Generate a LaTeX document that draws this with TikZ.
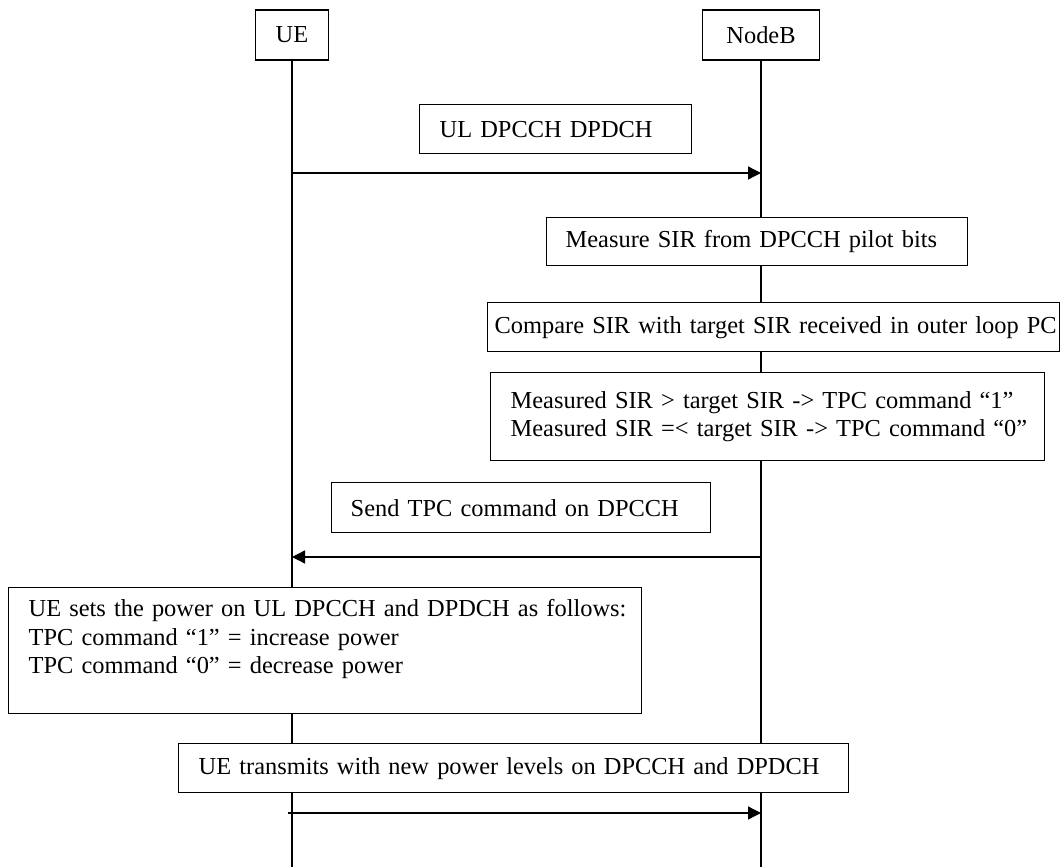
\documentclass[tikz,border=0pt]{standalone}
\usepackage{fontspec}
\setmainfont{Liberation Serif}
\usetikzlibrary{arrows.meta}
\begin{document}
\begin{tikzpicture}[x=1pt,y=-1pt,
  every node/.style={font=\fontsize{24.4}{28.5}\selectfont},
  head/.style={draw, line width=1.4pt, fill=white, minimum height=50pt, inner sep=0pt},
  box/.style={draw, line width=1.4pt, fill=white, anchor=north west, align=left, inner ysep=0pt},
  life/.style={line width=1.3pt},
  msg/.style={line width=1.3pt, -{Triangle[length=13pt,width=13pt]}}]
\useasboundingbox (0,0) rectangle (1061,867);

% heads
\node[head, minimum width=73pt] (ue) at (292,35) {UE};
\node[head, minimum width=117pt] (nb) at (761,35) {NodeB};

% lifelines
\coordinate (ueend) at (292,867);
\coordinate (nbend) at (761,867);
\draw[life] (ue) -- (ueend);
\draw[life] (nb) -- (nbend);

% boxes
\node[box, minimum width=272pt, minimum height=49pt, inner xsep=20pt, text width=232pt] (ul) at (419,104)
  {\mbox{UL DPCCH DPDCH}};
\node[box, minimum width=421pt, minimum height=48pt, inner xsep=19pt, text width=383pt] (meas) at (546,217)
  {\mbox{Measure SIR from DPCCH pilot bits}};
\node[box, minimum width=572pt, minimum height=49pt, inner xsep=7pt, text width=558pt] (comp) at (487,302)
  {\mbox{Compare SIR with target SIR received in outer loop PC}};
\node[box, minimum width=554pt, minimum height=88pt, inner xsep=20pt, text width=514pt] (cmd) at (490,372)
  {\mbox{Measured SIR > target SIR -> TPC command “1”}\\\mbox{Measured SIR =< target SIR -> TPC command “0”}};
\node[box, minimum width=379pt, minimum height=50pt, inner xsep=19pt, text width=341pt] (send) at (331,482)
  {\mbox{Send TPC command on DPCCH}};
\node[box, minimum width=633pt, minimum height=126pt, inner xsep=20pt, text width=593pt] (sets) at (8,587)
  {\mbox{UE sets the power on UL DPCCH and DPDCH as follows:}\\\mbox{TPC command “1” = increase power}\\\mbox{TPC command “0” = decrease power}\\\mbox{}};
\node[box, minimum width=670pt, minimum height=49pt, inner xsep=20pt, text width=630pt] (tx) at (178,743)
  {\mbox{UE transmits with new power levels on DPCCH and DPDCH}};

% messages
\coordinate (m1s) at (292,173);
\coordinate (m1e) at (761,173);
\coordinate (m2s) at (761,557);
\coordinate (m2e) at (292,557);
\coordinate (m3s) at (288,813);
\coordinate (m3e) at (761,813);
\draw[msg] (m1s) -- (m1e);
\draw[msg] (m2s) -- (m2e);
\draw[msg] (m3s) -- (m3e);
\end{tikzpicture}
\end{document}
